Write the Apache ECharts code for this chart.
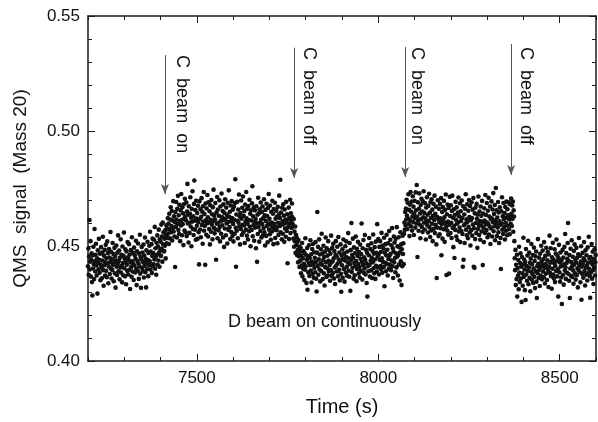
<!DOCTYPE html>
<html><head><meta charset="utf-8">
<script src="https://cdn.jsdelivr.net/npm/echarts@6/dist/echarts.min.js"></script>
<style>html,body{margin:0;padding:0;background:#fff}#c{width:598px;height:422px}</style>
</head><body><div id="c"></div><script>
// ---- data (QMS signal, Mass 20), one sample per second ----
const sampleStep = 1;
const blockStart = [7200, 7410, 7765, 8068, 8375];
const block1 = [
.4412,.4489,.4375,.4455,.4613,.4398,.4432,.4521,.4367,.4440,
.4468,.4343,.4285,.4459,.4402,.4497,.4421,.4356,.4574,.4433,
.4389,.4462,.4510,.4415,.4372,.4446,.4293,.4481,.4427,.4399,
.4531,.4440,.4384,.4466,.4351,.4419,.4495,.4408,.4360,.4472,
.4437,.4540,.4395,.4327,.4458,.4416,.4483,.4371,.4429,.4505,
.4392,.4447,.4364,.4520,.4425,.4469,.4338,.4411,.4487,.4450,
.4378,.4430,.4561,.4402,.4475,.4359,.4444,.4396,.4513,.4418,
.4465,.4347,.4427,.4492,.4381,.4456,.4319,.4438,.4502,.4410,
.4374,.4471,.4423,.4546,.4390,.4435,.4480,.4355,.4449,.4407,
.4529,.4385,.4462,.4414,.4342,.4498,.4426,.4373,.4457,.4559,
.4403,.4445,.4368,.4486,.4431,.4334,.4476,.4419,.4392,.4517,
.4451,.4376,.4440,.4508,.4397,.4463,.4313,.4428,.4482,.4409,
.4366,.4538,.4434,.4389,.4470,.4422,.4352,.4493,.4415,.4460,
.4385,.4445,.4523,.4401,.4330,.4477,.4436,.4393,.4511,.4424,
.4357,.4467,.4412,.4549,.4380,.4452,.4318,.4441,.4496,.4404,
.4472,.4391,.4429,.4506,.4363,.4458,.4413,.4537,.4386,.4444,
.4320,.4481,.4427,.4399,.4518,.4439,.4369,.4470,.4416,.4501,
.4435,.4562,.4398,.4476,.4421,.4508,.4383,.4457,.4532,.4412,
.4469,.4420,.4527,.4441,.4583,.4401,.4490,.4453,.4375,.4514,
.4462,.4546,.4418,.4498,.4437,.4571,.4472,.4410,.4529,.4483,
.4519,.4457,.4593,.4488,.4541,.4432,.4602,.4507,.4560,.4476];
const block2 = [
.4478,.4532,.4501,.4569,.4446,.4548,.4590,.4512,.4577,.4535,
.4621,.4554,.4598,.4509,.4640,.4572,.4533,.4615,.4668,.4560,
.4587,.4652,.4524,.4611,.4579,.4695,.4563,.4629,.4541,.4604,
.4409,.4648,.4583,.4691,.4615,.4537,.4662,.4596,.4718,.4570,
.4634,.4552,.4679,.4607,.4521,.4655,.4589,.4726,.4613,.4547,
.4668,.4595,.4642,.4504,.4681,.4619,.4567,.4705,.4628,.4560,
.4612,.4689,.4543,.4650,.4770,.4598,.4636,.4515,.4673,.4601,
.4557,.4640,.4712,.4585,.4623,.4499,.4661,.4606,.4738,.4574,
.4629,.4548,.4683,.4785,.4610,.4571,.4656,.4527,.4697,.4619,
.4588,.4643,.4531,.4675,.4603,.4560,.4420,.4694,.4617,.4572,
.4660,.4538,.4627,.4708,.4591,.4649,.4510,.4673,.4606,.4735,
.4566,.4639,.4587,.4418,.4685,.4612,.4549,.4663,.4598,.4722,
.4625,.4541,.4690,.4603,.4574,.4651,.4507,.4677,.4614,.4562,
.4700,.4593,.4638,.4529,.4669,.4608,.4745,.4579,.4632,.4555,
.4615,.4687,.4572,.4440,.4646,.4597,.4713,.4534,.4659,.4601,
.4568,.4631,.4699,.4583,.4520,.4672,.4609,.4553,.4728,.4626,
.4590,.4652,.4537,.4681,.4612,.4496,.4644,.4576,.4703,.4619,
.4547,.4667,.4598,.4636,.4511,.4688,.4604,.4570,.4742,.4627,
.4582,.4649,.4530,.4676,.4608,.4561,.4695,.4622,.4543,.4658,
.4596,.4520,.4671,.4614,.4553,.4687,.4790,.4579,.4410,.4637,
.4566,.4692,.4610,.4534,.4659,.4601,.4724,.4585,.4628,.4507,
.4643,.4574,.4698,.4619,.4548,.4666,.4592,.4715,.4560,.4631,
.4589,.4652,.4513,.4680,.4606,.4571,.4735,.4620,.4545,.4662,
.4597,.4528,.4674,.4613,.4564,.4701,.4584,.4640,.4499,.4655,
.4611,.4570,.4686,.4760,.4542,.4629,.4591,.4668,.4523,.4604,
.4655,.4580,.4617,.4490,.4673,.4599,.4431,.4636,.4552,.4710,
.4583,.4642,.4519,.4660,.4601,.4565,.4689,.4614,.4537,.4648,
.4595,.4672,.4546,.4621,.4578,.4703,.4560,.4633,.4502,.4657,
.4609,.4544,.4684,.4587,.4630,.4516,.4665,.4598,.4726,.4571,
.4618,.4551,.4676,.4593,.4527,.4649,.4602,.4563,.4697,.4580,
.4640,.4508,.4661,.4596,.4572,.4688,.4535,.4619,.4584,.4653,
.4569,.4627,.4512,.4670,.4601,.4548,.4637,.4719,.4586,.4622,
.4788,.4560,.4645,.4593,.4529,.4666,.4607,.4553,.4681,.4594,
.4632,.4518,.4659,.4576,.4614,.4540,.4692,.4601,.4565,.4638,
.4425,.4615,.4583,.4667,.4530,.4624,.4597,.4701,.4556,.4642,
.4610,.4578,.4685,.4626,.4595];
const block3 = [
.4588,.4532,.4617,.4497,.4563,.4521,.4585,.4470,.4549,.4503,
.4538,.4461,.4517,.4482,.4429,.4526,.4455,.4498,.4409,.4474,
.4436,.4492,.4381,.4457,.4415,.4513,.4368,.4446,.4401,.4478,
.4423,.4352,.4469,.4397,.4534,.4412,.4461,.4339,.4440,.4491,
.4310,.4455,.4386,.4427,.4503,.4370,.4448,.4416,.4525,.4393,
.4464,.4341,.4432,.4487,.4378,.4509,.4420,.4362,.4473,.4405,
.4449,.4386,.4517,.4430,.4358,.4302,.4471,.4648,.4413,.4496,
.4375,.4442,.4529,.4398,.4463,.4346,.4425,.4486,.4391,.4553,
.4418,.4467,.4356,.4439,.4501,.4381,.4452,.4328,.4475,.4408,
.4537,.4429,.4365,.4490,.4403,.4458,.4372,.4521,.4436,.4389,
.4481,.4417,.4349,.4466,.4395,.4545,.4428,.4370,.4492,.4434,
.4383,.4510,.4446,.4359,.4478,.4406,.4335,.4462,.4521,.4414,
.4455,.4389,.4497,.4424,.4368,.4539,.4441,.4397,.4472,.4350,
.4432,.4507,.4379,.4301,.4459,.4416,.4486,.4362,.4443,.4528,
.4400,.4468,.4345,.4437,.4499,.4385,.4453,.4520,.4410,.4371,
.4476,.4428,.4556,.4393,.4447,.4366,.4513,.4421,.4305,.4482,
.4439,.4600,.4387,.4461,.4405,.4532,.4448,.4358,.4494,.4426,
.4373,.4469,.4412,.4541,.4435,.4347,.4488,.4399,.4457,.4518,
.4422,.4380,.4474,.4409,.4363,.4506,.4445,.4392,.4465,.4598,
.4431,.4354,.4490,.4417,.4526,.4384,.4451,.4402,.4548,.4440,
.4376,.4484,.4425,.4339,.4471,.4280,.4412,.4503,.4390,.4460,
.4535,.4418,.4367,.4487,.4436,.4394,.4512,.4449,.4361,.4478,
.4429,.4550,.4403,.4466,.4381,.4495,.4441,.4357,.4519,.4414,
.4470,.4388,.4595,.4452,.4407,.4530,.4463,.4376,.4496,.4439,
.4521,.4413,.4474,.4398,.4557,.4446,.4384,.4502,.4430,.4489,
.4409,.4536,.4325,.4471,.4427,.4508,.4390,.4460,.4549,.4421,
.4484,.4372,.4512,.4444,.4401,.4565,.4458,.4419,.4527,.4466,
.4395,.4503,.4437,.4578,.4412,.4490,.4361,.4476,.4541,.4429,
.4515,.4448,.4386,.4531,.4468,.4407,.4582,.4453,.4499,.4372,
.4461,.4538,.4419,.4495,.4350,.4473,.4560,.4433,.4507,.4330,
.4486,.4412,.4545];
const block4 = [
.4465,.4512,.4421,.4553,.4602,.4570,.4648,.4589,.4663,.4615,
.4701,.4632,.4574,.4688,.4619,.4725,.4596,.4657,.4543,.4680,
.4612,.4735,.4586,.4649,.4693,.4567,.4628,.4716,.4604,.4671,
.4548,.4639,.4697,.4621,.4580,.4733,.4655,.4598,.4765,.4627,
.4452,.4690,.4611,.4566,.4662,.4729,.4593,.4641,.4534,.4678,
.4617,.4705,.4583,.4650,.4561,.4694,.4625,.4738,.4601,.4644,
.4572,.4686,.4619,.4528,.4667,.4603,.4712,.4590,.4636,.4559,
.4674,.4608,.4727,.4581,.4645,.4539,.4690,.4622,.4568,.4703,
.4597,.4658,.4521,.4631,.4684,.4575,.4613,.4719,.4556,.4640,
.4592,.4671,.4507,.4361,.4627,.4580,.4699,.4618,.4543,.4662,
.4604,.4551,.4683,.4620,.4577,.4708,.4460,.4595,.4648,.4532,
.4669,.4611,.4573,.4696,.4625,.4518,.4657,.4599,.4724,.4584,
.4374,.4638,.4567,.4680,.4606,.4549,.4665,.4380,.4592,.4714,
.4630,.4556,.4677,.4601,.4535,.4652,.4719,.4578,.4623,.4495,
.4660,.4588,.4448,.4635,.4570,.4692,.4614,.4541,.4668,.4597,
.4526,.4645,.4603,.4711,.4563,.4629,.4580,.4686,.4517,.4651,
.4609,.4565,.4698,.4622,.4552,.4410,.4673,.4440,.4590,.4637,
.4513,.4662,.4598,.4725,.4571,.4616,.4547,.4681,.4605,.4534,
.4653,.4583,.4700,.4626,.4559,.4674,.4502,.4612,.4569,.4690,
.4621,.4545,.4658,.4593,.4709,.4410,.4577,.4405,.4642,.4530,
.4667,.4600,.4556,.4683,.4619,.4492,.4637,.4574,.4715,.4591,
.4548,.4650,.4608,.4527,.4672,.4589,.4631,.4563,.4696,.4605,
.4417,.4641,.4579,.4517,.4664,.4611,.4557,.4722,.4594,.4635,
.4569,.4687,.4602,.4538,.4653,.4596,.4710,.4550,.4628,.4585,
.4672,.4509,.4617,.4576,.4694,.4620,.4541,.4659,.4603,.4730,
.4564,.4639,.4586,.4678,.4525,.4612,.4752,.4597,.4655,.4543,
.4624,.4580,.4691,.4560,.4646,.4513,.4607,.4668,.4592,.4535,
.4400,.4651,.4598,.4712,.4571,.4629,.4552,.4687,.4616,.4583,
.4643,.4528,.4670,.4601,.4566,.4693,.4624,.4547,.4660,.4589,
.4634,.4690,.4573,.4615,.4551,.4682,.4627,.4596,.4706,.4640,
.4587,.4676,.4618,.4693,.4562,.4655,.4628];
const block5 = [
.4521,.4447,.4395,.4483,.4330,.4418,.4356,.4462,.4280,.4404,
.4371,.4439,.4312,.4497,.4385,.4343,.4426,.4468,.4359,.4410,
.4257,.4452,.4381,.4327,.4419,.4536,.4365,.4441,.4398,.4308,
.4430,.4265,.4487,.4376,.4413,.4349,.4459,.4392,.4523,.4334,
.4406,.4471,.4362,.4427,.4303,.4445,.4388,.4509,.4353,.4420,
.4378,.4461,.4339,.4402,.4493,.4366,.4435,.4317,.4455,.4390,
.4476,.4345,.4274,.4412,.4382,.4530,.4423,.4361,.4449,.4397,
.4326,.4466,.4408,.4372,.4501,.4433,.4355,.4418,.4480,.4389,
.4443,.4364,.4517,.4405,.4337,.4457,.4421,.4380,.4492,.4415,
.4352,.4438,.4474,.4396,.4322,.4463,.4409,.4545,.4383,.4427,
.4490,.4369,.4432,.4314,.4451,.4401,.4514,.4376,.4440,.4359,
.4425,.4486,.4343,.4413,.4467,.4391,.4528,.4434,.4368,.4456,
.4399,.4280,.4447,.4505,.4386,.4429,.4345,.4472,.4411,.4363,
.4438,.4248,.4416,.4483,.4374,.4450,.4332,.4420,.4496,.4393,
.4552,.4407,.4357,.4469,.4426,.4384,.4444,.4513,.4600,.4378,
.4435,.4349,.4461,.4274,.4402,.4488,.4370,.4430,.4525,.4412,
.4365,.4453,.4394,.4336,.4478,.4419,.4507,.4381,.4441,.4354,
.4428,.4492,.4373,.4449,.4403,.4320,.4464,.4396,.4535,.4417,
.4387,.4458,.4342,.4432,.4499,.4266,.4410,.4379,.4470,.4423,
.4362,.4446,.4517,.4391,.4437,.4328,.4481,.4406,.4375,.4460,
.4415,.4350,.4494,.4427,.4383,.4540,.4401,.4446,.4369,.4275,
.4452,.4386,.4431,.4509,.4358,.4420,.4475,.4395,.4335,.4443,
.4408,.4486,.4372,.4429,.4461];

// ---- axes / ticks ----
const xMin = 7200, xMax = 8600, xMinorStep = 100;
const xMajorTicks = [7500, 8000, 8500];
const yMin = 0.40, yMax = 0.55, yStep = 0.05;
const xTitle = 'Time (s)';
const yTitle = 'QMS  signal  (Mass 20)';

// ---- annotations ----
const arrowX   = [7412, 7768, 8074, 8366];
const arrowTop = [0.5330, 0.5362, 0.5365, 0.5378];
const arrowTip = [0.4726, 0.4796, 0.4800, 0.4809];
const arrowText = ['C  beam  on', 'C  beam  off', 'C  beam  on', 'C  beam  off'];
const textX   = [7458, 7808, 8107, 8406];
const textTop = [0.5330, 0.5365, 0.5365, 0.5365];
const noteText = 'D beam on continuously';
const noteX = 7852, noteY = 0.417;

const points = [];
[block1, block2, block3, block4, block5].forEach((blk, k) => {
  blk.forEach((v, i) => points.push([blockStart[k] + i * sampleStep, v]));
});

const FONT = '"Liberation Sans", Arial, Helvetica, sans-serif';
const INK = '#111';
const lineSt = { color: '#1a1a1a', width: 1.5 };
const tickSt = { color: '#1a1a1a', width: 1 };

function xAxisDef(pos, major, withLabels) {
  const a = {
    type: 'value', position: pos, min: xMin, max: xMax, gridIndex: 0,
    splitLine: { show: false },
    axisLine: { show: !major, onZero: false, lineStyle: lineSt },
    axisLabel: { show: false },
    axisTick: { show: true, inside: true, length: major ? 7 : 4, lineStyle: tickSt }
  };
  if (major) {
    a.axisTick.customValues = xMajorTicks;
  } else {
    a.interval = xMinorStep;
  }
  if (withLabels) {
    a.axisLabel = { show: true, customValues: xMajorTicks, formatter: v => String(v),
      fontSize: 17, color: INK, margin: 9, fontFamily: FONT };
    a.name = xTitle; a.nameLocation = 'middle'; a.nameGap = 36;
    a.nameTextStyle = { fontSize: 20, color: INK, fontFamily: FONT };
  }
  return a;
}
function yAxisDef(pos, withLabels) {
  const a = {
    type: 'value', position: pos, min: yMin, max: yMax, interval: yStep, gridIndex: 0,
    splitLine: { show: false },
    axisLine: { show: true, onZero: false, lineStyle: lineSt },
    axisTick: { show: true, inside: true, length: 7, lineStyle: tickSt },
    minorTick: { show: true, splitNumber: 5, length: 4, lineStyle: tickSt },
    axisLabel: { show: withLabels, formatter: v => v.toFixed(2), fontSize: 17, color: INK, margin: 8, fontFamily: FONT }
  };
  if (withLabels) {
    a.name = yTitle; a.nameLocation = 'middle'; a.nameGap = 58;
    a.nameTextStyle = { fontSize: 19, color: INK, fontFamily: FONT };
  }
  return a;
}

const chart = echarts.init(document.getElementById('c'), null, { renderer: 'canvas' });
chart.setOption({
  animation: false,
  backgroundColor: '#fff',
  grid: { left: 88, right: 2, top: 16, bottom: 61, containLabel: false },
  xAxis: [xAxisDef('bottom', false, true), xAxisDef('bottom', true, false),
          xAxisDef('top', false, false), xAxisDef('top', true, false)],
  yAxis: [yAxisDef('left', true), yAxisDef('right', false)],
  series: [{
    type: 'scatter', xAxisIndex: 0, yAxisIndex: 0,
    data: points, symbol: 'circle', symbolSize: 4.6,
    itemStyle: { color: INK, opacity: 1 },
    silent: true,
    markLine: {
      silent: true, animation: false,
      symbol: ['none', 'arrow'], symbolSize: [6, 10],
      lineStyle: { color: '#555', width: 1, type: 'solid' },
      label: { show: false },
      emphasis: { disabled: true },
      data: arrowX.map((x, i) => [{ coord: [x, arrowTop[i]] }, { coord: [x, arrowTip[i]] }])
    }
  }]
});

const graphics = arrowText.map((t, i) => {
  const p = chart.convertToPixel({ xAxisIndex: 0, yAxisIndex: 0 }, [textX[i], textTop[i]]);
  return { type: 'text', x: p[0], y: p[1], rotation: -Math.PI / 2, silent: true,
    style: { text: t, fontSize: 18, fontFamily: FONT, fill: INK, align: 'left', verticalAlign: 'middle' } };
});
const np = chart.convertToPixel({ xAxisIndex: 0, yAxisIndex: 0 }, [noteX, noteY]);
graphics.push({ type: 'text', x: np[0], y: np[1], silent: true,
  style: { text: noteText, fontSize: 18, fontFamily: FONT, fill: INK, align: 'center', verticalAlign: 'middle' } });
chart.setOption({ graphic: graphics });
</script></body></html>
